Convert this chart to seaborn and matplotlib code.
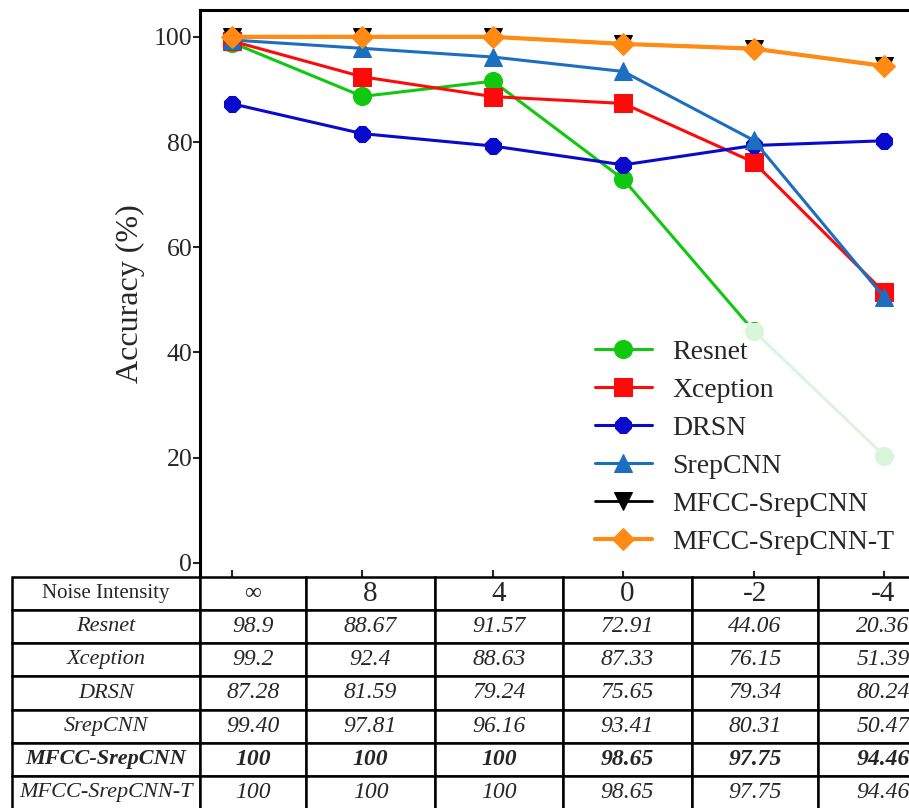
import numpy as np
import pandas as pd
import matplotlib
matplotlib.use("Agg")
import matplotlib.pyplot as plt
import seaborn as sns

# --- data ---
noise_levels = ["\u221e", "8", "4", "0", "-2", "-4"]
models = ["Resnet", "Xception", "DRSN", "SrepCNN", "MFCC-SrepCNN", "MFCC-SrepCNN-T"]

resnet = [98.9, 88.67, 91.57, 72.91, 44.06, 20.36]
xception = [99.2, 92.4, 88.63, 87.33, 76.15, 51.39]
drsn = [87.28, 81.59, 79.24, 75.65, 79.34, 80.24]
srepcnn = [99.40, 97.81, 96.16, 93.41, 80.31, 50.47]
mfcc_srepcnn = [100, 100, 100, 98.65, 97.75, 94.46]
mfcc_srepcnn_t = [100, 100, 100, 98.65, 97.75, 94.46]

# texts shown in the table (as printed in the figure)
table_text = [
    ["98.9", "88.67", "91.57", "72.91", "44.06", "20.36"],
    ["99.2", "92.4", "88.63", "87.33", "76.15", "51.39"],
    ["87.28", "81.59", "79.24", "75.65", "79.34", "80.24"],
    ["99.40", "97.81", "96.16", "93.41", "80.31", "50.47"],
    ["100", "100", "100", "98.65", "97.75", "94.46"],
    ["100", "100", "100", "98.65", "97.75", "94.46"],
]

series = [resnet, xception, drsn, srepcnn, mfcc_srepcnn, mfcc_srepcnn_t]
colors = ["#10c810", "#ff0a0a", "#0a0acd", "#1c6fc0", "#000000", "#ff8a14"]
markers = ["o", "s", "8", "^", "v", "D"]
msizes = [13, 13, 13, 13, 13, 11]
lwidths = [2.2, 2.2, 2.2, 2.2, 2.0, 3.0]

sns.set_style("ticks")
plt.rcParams["font.family"] = ["Liberation Serif", "DejaVu Serif"]

fig = plt.figure(figsize=(9.09, 8.08), dpi=100)
W, H = 909, 808
ax = fig.add_axes([200 / W, 230 / H, (909 - 200) / W, (578 - 10) / H])

x_pos = np.arange(len(noise_levels))
for name, vals, c, m, ms, lw in zip(models, series, colors, markers, msizes, lwidths):
    df = pd.DataFrame({"x": x_pos, "acc": vals})
    sns.lineplot(data=df, x="x", y="acc", ax=ax, color=c, marker=m,
                 markersize=ms, markeredgecolor=c, linewidth=lw, label=name)

ax.set_xlim(-0.245, 5.19)
ax.set_ylim(-2.9, 105.1)
ax.set_yticks([0, 20, 40, 60, 80, 100])
ax.set_xticks(x_pos)
ax.set_xticklabels([])
ax.set_xlabel("")
ax.set_ylabel("Accuracy (%)", fontsize=23, labelpad=6)
ax.tick_params(axis="y", labelsize=18.5, length=5, width=1.5, direction="out", pad=0.5)
ax.tick_params(axis="x", length=6, width=1.5, direction="in")
for s in ["left", "top", "bottom"]:
    ax.spines[s].set_linewidth(2.2)
    ax.spines[s].set_color("black")
ax.spines["right"].set_visible(False)

leg = ax.legend(loc="lower right", bbox_to_anchor=(1.003, 0.012), fontsize=20,
                frameon=True, framealpha=0.85, edgecolor="none", facecolor="white",
                handlelength=2.05, handletextpad=0.75, labelspacing=0.45,
                borderaxespad=0.0, borderpad=0.6)

# --- table below the plot ---
tax = fig.add_axes([12 / W, -1 / H, 936 / W, 232 / H])
tax.axis("off")
col_px = [188, 106, 129, 128, 129, 126, 130]
col_w = [w / sum(col_px) for w in col_px]
cells = [["Noise Intensity"] + noise_levels] + [[m] + row for m, row in zip(models, table_text)]
tbl = tax.table(cellText=cells, cellLoc="center", bbox=[0, 0, 1, 1], colWidths=col_w)
tbl.auto_set_font_size(False)
for (r, c), cell in tbl.get_celld().items():
    cell.set_linewidth(1.8)
    cell.set_edgecolor("black")
    t = cell.get_text()
    t.set_fontsize(17 if c > 0 else 16)
    if r == 0:
        if c == 0:
            t.set_fontsize(15)
        elif c == 1:
            t.set_fontsize(17)
        else:
            t.set_fontsize(21)
    else:
        t.set_fontstyle("italic")
        if r == 5:
            t.set_fontweight("bold")

fig.savefig("out.png", dpi=100)
